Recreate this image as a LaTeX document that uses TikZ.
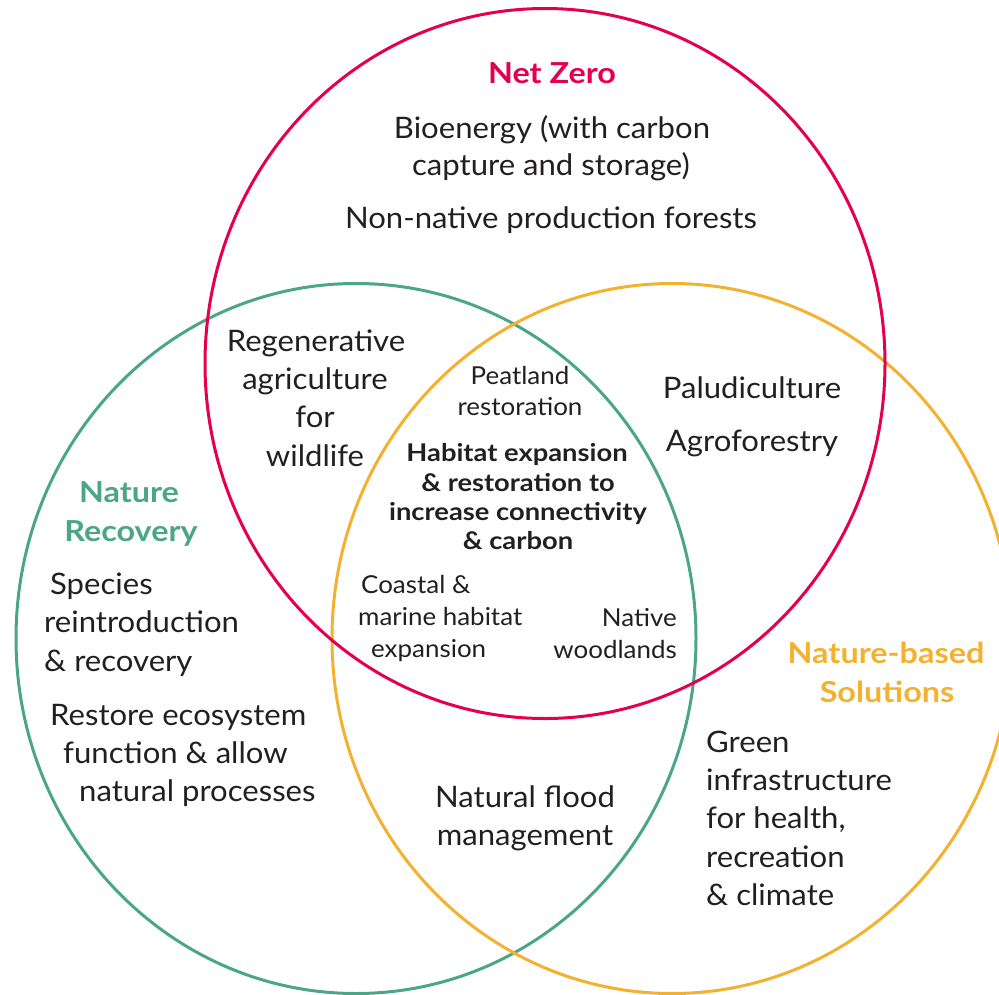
\documentclass[tikz,border=0pt]{standalone}
\usepackage{fontspec}
\setmainfont{Lato}[FakeStretch=1.05]
\newfontfamily\widebold{Lato}[FakeStretch=1.12]
\definecolor{nzred}{HTML}{E4004B}
\definecolor{nrgreen}{HTML}{4BA687}
\definecolor{nbyellow}{HTML}{F4B12F}
\definecolor{ink}{HTML}{231F20}
\begin{document}
\begin{tikzpicture}[x=1pt,y=-1pt,
  ring/.style={line width=3pt},
  txt/.style={inner sep=0pt, text=ink, font=\fontsize{29.6}{34}\selectfont, text height=22pt, text depth=2pt},
  small/.style={txt, font=\fontsize{24.7}{28}\selectfont, text height=18pt, text depth=2pt},
  core/.style={txt, font=\widebold\bfseries\fontsize{24.4}{28}\selectfont, text height=22pt, text depth=2pt},
  title/.style={txt, font=\widebold\bfseries\fontsize{28.9}{34}\selectfont, text height=22pt, text depth=2pt}]
\useasboundingbox (0,0) rectangle (999,994);
\clip (0,0) rectangle (999,994);
% circles
\draw[ring, nrgreen] (356,638.5) ellipse [x radius=340pt, y radius=355pt];
\draw[ring, nbyellow] (672,638.5) ellipse [x radius=340pt, y radius=355pt];
\draw[ring, nzred] (545,363.5) ellipse [x radius=340pt, y radius=355pt];
% Net Zero
\node[title, text=nzred] (nz) at (552,73) {Net Zero};
\node[txt] (bio1) at (552,128) {Bioenergy (with carbon};
\node[txt] (bio2) at (551,165) {capture and storage)};
\node[txt] (nnp) at (551,218) {Non-native production forests};
% Net Zero & Nature Recovery
\node[txt] (reg1) at (316,341) {Regenerative};
\node[txt] (reg2) at (315,379) {agriculture};
\node[txt] (reg3) at (315,417) {for};
\node[txt] (reg4) at (315,456) {wildlife};
% Net Zero & NbS
\node[txt] (pal) at (752,388) {Paludiculture};
\node[txt] (agr) at (752,441) {Agroforestry};
% centre
\node[small] (pea1) at (520,376) {Peatland};
\node[small] (pea2) at (520,407) {restoration};
\node[core] (hab1) at (517,451) {Habitat expansion};
\node[core] (hab2) at (518,481) {\& restoration to};
\node[core] (hab3) at (518,510) {increase connectivity};
\node[core] (hab4) at (518,539) {\& carbon};
\node[small, anchor=west] (coa1) at (361,585) {Coastal \&};
\node[small, anchor=west] (coa2) at (358,617) {marine habitat};
\node[small, anchor=west] (coa3) at (371,649) {expansion};
\node[small, anchor=east] (nat1) at (677,618) {Native};
\node[small, anchor=east] (nat2) at (677,650) {woodlands};
% Nature Recovery
\node[title, text=nrgreen] (nr1) at (129,492) {Nature};
\node[title, text=nrgreen] (nr2) at (131,531) {Recovery};
\node[txt, anchor=west] (spe1) at (50,584) {Species};
\node[txt, anchor=west] (spe2) at (44,622) {reintroduction};
\node[txt, anchor=west] (spe3) at (44,661) {\& recovery};
\node[txt, anchor=west] (res1) at (50,715) {Restore ecosystem};
\node[txt, anchor=west] (res2) at (63,753) {function \& allow};
\node[txt, anchor=west] (res3) at (79,791) {natural processes};
% Nature Recovery & NbS
\node[txt] (nfm1) at (525,797) {Natural flood};
\node[txt] (nfm2) at (525,835) {management};
% NbS
\node[title, text=nbyellow] (nb1) at (886,653) {Nature-based};
\node[title, text=nbyellow] (nb2) at (887,692) {Solutions};
\node[txt, anchor=west] (gi1) at (706,742) {Green};
\node[txt, anchor=west] (gi2) at (706,780) {infrastructure};
\node[txt, anchor=west] (gi3) at (706,818) {for health,};
\node[txt, anchor=west] (gi4) at (706,857) {recreation};
\node[txt, anchor=west] (gi5) at (706,895) {\& climate};
\end{tikzpicture}
\end{document}
